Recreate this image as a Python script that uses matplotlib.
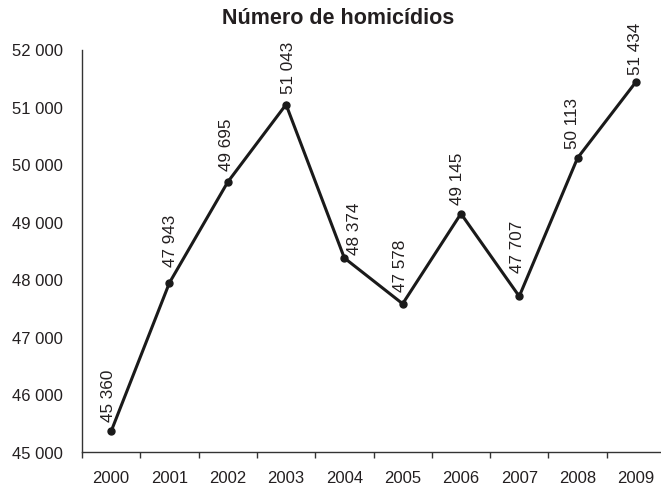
import matplotlib
matplotlib.use("Agg")
import matplotlib.pyplot as plt
from matplotlib.ticker import FixedLocator, FuncFormatter

years = ["2000", "2001", "2002", "2003", "2004", "2005", "2006", "2007", "2008", "2009"]
homicides = [45360, 47943, 49695, 51043, 48374, 47578, 49145, 47707, 50113, 51434]
y_ticks = [45000, 46000, 47000, 48000, 49000, 50000, 51000, 52000]
title = "Número de homicídios"

# label placement tweaks (pixels): horizontal shift, gap above point
label_dx = [-3, 1, -1, 2, 10, -2, -3, -2, -5, 0]
label_gap = [10, 17, 12, 12, 4, 13, 10, 24, 10, 8]

def fmt(v):
    return f"{int(v):,}".replace(",", " ")

plt.rcParams['font.family'] = ['Liberation Sans', 'DejaVu Sans']
txt = '#231f20'

fig = plt.figure(figsize=(6.61, 4.85), dpi=100)
W, H = 661, 485
left, right_px, bottom_px, top_px = 82, 665, 453, 50.5
ax = fig.add_axes([left / W, 1 - bottom_px / H, (right_px - left) / W, (bottom_px - top_px) / H])

x = list(range(len(years)))
ax.plot(x, homicides, color='#1a1a1a', lw=2.2, marker='o', ms=5, solid_joinstyle='miter')

for xi, v, dx, gap in zip(x, homicides, label_dx, label_gap):
    ax.annotate(fmt(v), (xi, v), xytext=(dx, gap), textcoords='offset pixels',
                rotation=90, ha='center', va='bottom', fontsize=12.3, color=txt)

ax.set_xlim(-0.5, len(years) - 0.5)
ax.set_ylim(45000, 52000)

ax.spines['top'].set_visible(False)
ax.spines['right'].set_visible(False)
for s in ('left', 'bottom'):
    ax.spines[s].set_color('#333333')
    ax.spines[s].set_linewidth(1.0)

ax.set_xticks(x)
ax.set_xticklabels(years)
ax.xaxis.set_minor_locator(FixedLocator([i - 0.5 for i in range(len(years) + 1)]))
ax.tick_params(axis='x', which='major', length=0, pad=13, labelsize=12, labelcolor=txt)
ax.tick_params(axis='x', which='minor', length=4, width=1.0, color='#333333', direction='out')

ax.set_yticks(y_ticks)
ax.yaxis.set_major_formatter(FuncFormatter(lambda v, p: fmt(v)))
ax.yaxis.set_minor_locator(FixedLocator([45000]))
ax.tick_params(axis='y', which='major', length=0, pad=14, labelsize=12, labelcolor=txt)
ax.tick_params(axis='y', which='minor', length=10, width=1.0, color='#333333', direction='out')

fig.text(338 / W, 1 - 19 / H, title, ha='center', va='center', fontsize=15.5, fontweight='bold', color=txt)

fig.savefig('out.png', dpi=100)
